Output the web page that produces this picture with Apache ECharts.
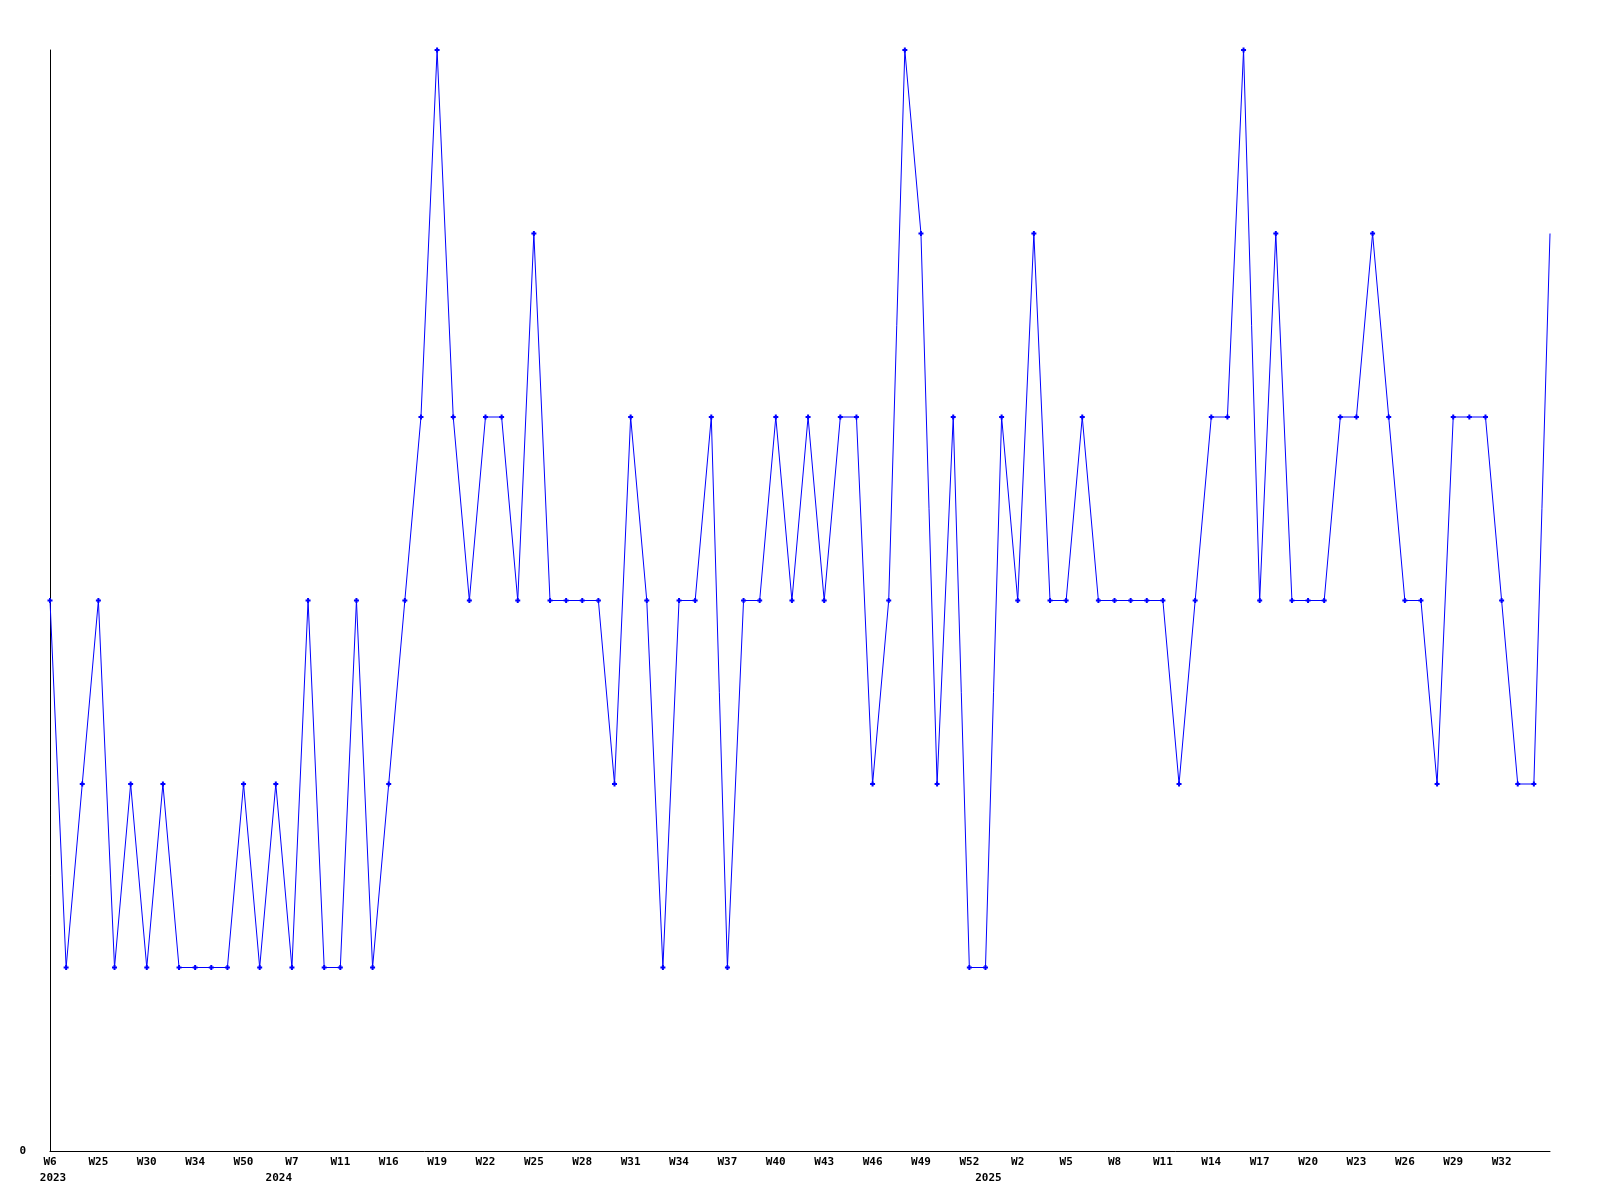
<!DOCTYPE html>
<html>
<head>
<meta charset="utf-8">
<script src="https://cdn.jsdelivr.net/npm/echarts@6/dist/echarts.min.js"></script>
<style>
html,body{margin:0;padding:0;background:#fff;}
#chart{width:1600px;height:1200px;}
</style>
</head>
<body>
<div id="chart"></div>
<script>
// Week labels per data point
const weeks2023 = ['W6','W12','W20','W25','W27','W28','W30','W31','W33','W34','W40','W45','W50','W51'];
const weeks2024 = ['W3','W7','W8','W10','W11','W13','W15','W16','W17','W18','W19','W20','W21','W22','W23','W24','W25','W26','W27','W28','W29','W30','W31','W32','W33','W34','W35','W36','W37','W38','W39','W40','W41','W42','W43','W44','W45','W46','W47','W48','W49','W50','W51','W52'];
const weeks2025 = ['W0','W1','W2','W3','W4','W5','W6','W7','W8','W9','W10','W11','W12','W13','W14','W15','W16','W17','W18','W19','W20','W21','W22','W23','W24','W25','W26','W27','W28','W29','W30','W31','W32','W33','W34','W35'];

// Values
const values = [3,1,2,3,1,2,1,2,1,1,
                1,1,2,1,2,1,3,1,1,3,
                1,2,3,4,6,4,3,4,4,3,
                5,3,3,3,3,2,4,3,1,3,
                3,4,1,3,3,4,3,4,3,4,
                4,2,3,6,5,2,4,1,1,4,
                3,5,3,3,4,3,3,3,3,3,
                2,3,4,4,6,3,5,3,3,3,
                4,4,5,4,3,3,2,4,4,4,
                3,2,2,5];

const yTickLabels = ['0'];

const weeks = weeks2023.concat(weeks2024, weeks2025);
const years = weeks2023.map(() => '2023')
  .concat(weeks2024.map(() => '2024'), weeks2025.map(() => '2025'));

const font = {fontFamily: 'DejaVu Sans Mono', fontWeight: 'bold', fontSize: 11, color: '#000'};

const chart = echarts.init(document.getElementById('chart'), null, {renderer: 'canvas'});
chart.setOption({
  animation: false,
  backgroundColor: '#ffffff',
  grid: {left: 50, right: 50, top: 50, bottom: 49, containLabel: false},
  xAxis: [{
    type: 'category',
    data: weeks,
    boundaryGap: false,
    axisLine: {show: true, lineStyle: {color: '#000', width: 1}},
    axisTick: {show: false},
    splitLine: {show: false},
    axisLabel: Object.assign({
      margin: 6,
      interval: (i) => i % 3 === 0 && i < weeks.length - 1
    }, font)
  }, {
    type: 'category',
    data: years,
    position: 'bottom',
    offset: 16,
    boundaryGap: false,
    axisLine: {show: false},
    axisTick: {show: false},
    splitLine: {show: false},
    axisLabel: Object.assign({
      margin: 6,
      padding: [0, 0, 0, 6],
      interval: (i) => i === 0 || years[i] !== years[i - 1]
    }, font)
  }],
  yAxis: {
    type: 'value',
    min: 0,
    max: 6,
    interval: 6,
    axisLine: {show: true, lineStyle: {color: '#000', width: 1}},
    axisTick: {show: false},
    splitLine: {show: false},
    axisLabel: Object.assign({
      margin: 24,
      formatter: (v) => (v === 0 ? yTickLabels[0] : '')
    }, font)
  },
  series: [{
    type: 'line',
    xAxisIndex: 0,
    data: values.map((v, i) => i === values.length - 1 ? {value: v, symbol: 'none'} : v),
    symbol: 'path://M1.5,0H3.5V1.5H5V3.5H3.5V5H1.5V3.5H0V1.5H1.5Z',
    symbolSize: 5,
    showAllSymbol: true,
    lineStyle: {color: '#0000ff', width: 1},
    itemStyle: {color: '#0000ff'}
  }]
});
</script>
</body>
</html>
